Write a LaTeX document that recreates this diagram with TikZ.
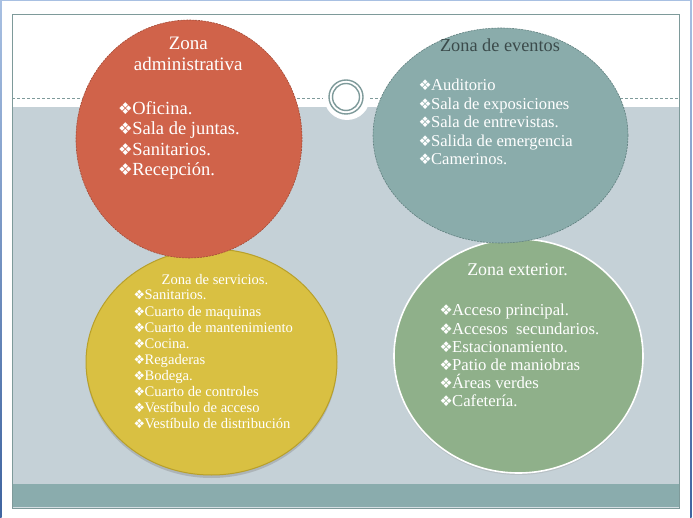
\documentclass[tikz,border=0pt]{standalone}
\usepackage{fontspec}
\setmainfont{Liberation Serif}
\newfontfamily\dingfont{DejaVu Sans}
\usetikzlibrary{shapes.geometric,shadows}
\definecolor{redz}{HTML}{D0634A}
\definecolor{redb}{HTML}{A34B37}
\definecolor{tealz}{HTML}{8AACAB}
\definecolor{tealb}{HTML}{5F7F7E}
\definecolor{yelz}{HTML}{D9C042}
\definecolor{yelb}{HTML}{B8A02A}
\definecolor{grnz}{HTML}{8FB08A}
\definecolor{grayband}{HTML}{C5D1D7}
\definecolor{botband}{HTML}{8AACAD}
\definecolor{framec}{HTML}{7E9A9A}
\definecolor{titlec}{HTML}{3B4B4B}
\definecolor{winlight}{HTML}{A8C0E2}
\definecolor{windark}{HTML}{3F64A0}
\newcommand\bul{{\dingfont\scalebox{0.88}{❖}}\kern-0.5pt}
\begin{document}
\begin{tikzpicture}[x=1pt,y=-1pt,
  zone/.style={ellipse,inner sep=0pt},
  itm/.style={anchor=base west,inner sep=0pt,text=white},
  ttl/.style={anchor=base,inner sep=0pt,text=white}]
\useasboundingbox (0,0) rectangle (693,518);
\fill[white] (0,0) rectangle (693,518);
% window border
\shade[top color=winlight,bottom color=windark] (0,0) rectangle (1.5,518);
\shade[top color=winlight,bottom color=windark] (690,0) rectangle (691.5,518);
\fill[winlight] (0,0) rectangle (691.5,1.5);
% slide background
\fill[grayband] (12.3,107) rectangle (679.3,483.5);
\fill[botband] (12.3,483.5) rectangle (679.3,506.5);
\fill[grayband!70!white] (12.3,506.5) rectangle (679.3,508.3);
\draw[framec,line width=1pt] (12.3,14.3) rectangle (679.3,508.3);
% notch and dashed line
\fill[white] (347,97) circle[radius=23];
\coordinate (dl1) at (12.3,98);
\coordinate (dl2) at (323,98);
\coordinate (dl3) at (370,98);
\coordinate (dl4) at (679.3,98);
\draw[framec,line width=0.8pt,dash pattern=on 3pt off 2pt] (dl1) -- (dl2) (dl3) -- (dl4);
\node[circle,draw=framec,line width=1.4pt,fill=white,minimum size=34pt,inner sep=0pt] (ring) at (346,97) {};
\draw[framec,line width=1.4pt] (ring.center) circle[radius=13.5];
% lower circles
\node[zone,fill=yelz,draw=yelb,line width=1pt,minimum width=251pt,minimum height=226pt,
  drop shadow={shadow xshift=0pt,shadow yshift=-3pt,opacity=0.35}] (yel) at (211.5,362) {};
\node[zone,fill=grnz,draw=white,line width=1.6pt,minimum width=249pt,minimum height=234pt,
  drop shadow={shadow xshift=0pt,shadow yshift=-2pt,opacity=0.2}] (grn) at (518.5,356) {};
% upper circles
\node[zone,fill=redz,draw=redb,line width=0.6pt,dash pattern=on 2pt off 1pt,minimum width=226pt,minimum height=238pt] (red) at (189,139) {};
\node[zone,fill=tealz,draw=tealb,line width=0.6pt,dash pattern=on 2pt off 1pt,minimum width=255pt,minimum height=215pt] (teal) at (500.5,135.5) {};
% red text
\begin{scope}[font=\fontsize{19}{20.5}\selectfont]
\node[ttl] (rt1) at (188.3,50) {Zona};
\node[ttl] (rt2) at (188.3,70.7) {administrativa};
\end{scope}
\begin{scope}[font=\fontsize{18.5}{20.3}\selectfont]
\foreach \t [count=\i] in {Oficina.,Sala de juntas.,Sanitarios.,Recepción.}
  \node[itm] (r\i) at (118,{114.5+20.3*(\i-1)}) {\bul\t};
\end{scope}
% teal text
\node[ttl,text=titlec,font=\fontsize{18.3}{20}\selectfont] (tt) at (500,52) {Zona de eventos};
\begin{scope}[font=\fontsize{16.6}{18.5}\selectfont]
\foreach \t [count=\i] in {Auditorio,Sala de exposiciones,Sala de entrevistas.,Salida de emergencia,Camerinos.}
  \node[itm] (e\i) at (418.3,{91+18.5*(\i-1)}) {\bul\t};
\end{scope}
% yellow text
\node[ttl,font=\fontsize{14.6}{16}\selectfont] (yt) at (215,284.3) {Zona de servicios.};
\begin{scope}[font=\fontsize{14.6}{16.1}\selectfont]
\foreach \t [count=\i] in {Sanitarios.,Cuarto de maquinas,Cuarto de mantenimiento,Cocina.,Regaderas,Bodega.,Cuarto de controles,Vestíbulo de acceso,Vestíbulo de distribución}
  \node[itm] (s\i) at (133.3,{300+16.1*(\i-1)}) {\bul\t};
\end{scope}
% green text
\node[ttl,font=\fontsize{17.9}{20}\selectfont] (gt) at (517.5,276) {Zona exterior.};
\begin{scope}[font=\fontsize{16.7}{18.1}\selectfont]
\foreach \t [count=\i] in {Acceso principal.,Accesos\ \ secundarios.,Estacionamiento.,Patio de maniobras,Áreas verdes,Cafetería.}
  \node[itm] (x\i) at (439.3,{316+18.1*(\i-1)}) {\bul\t};
\end{scope}
\end{tikzpicture}
\end{document}
